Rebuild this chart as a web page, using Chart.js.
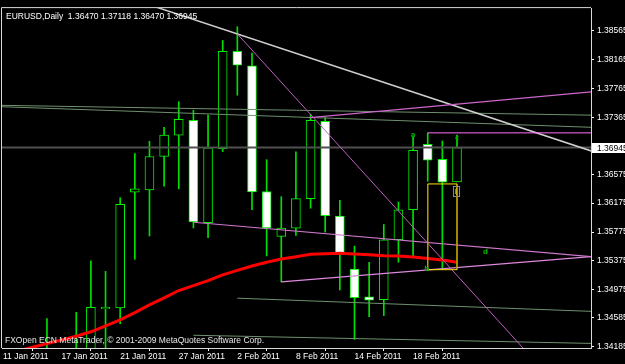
<!DOCTYPE html>
<html><head><meta charset="utf-8">
<script src="https://cdn.jsdelivr.net/npm/chart.js@4.4.1/dist/chart.umd.min.js"></script>
<style>html,body{margin:0;padding:0;background:#000;overflow:hidden}canvas{display:block}</style>
</head><body>
<canvas id="c" width="625" height="364"></canvas>
<script>
// ---------- data ----------
const symbolTitle = 'EURUSD,Daily';
const copyright = 'FXOpen ECN MetaTrader, \u00A9 2001-2009 MetaQuotes Software Corp.';
const dates = ['11 Jan 2011','12 Jan 2011','13 Jan 2011','14 Jan 2011','17 Jan 2011','18 Jan 2011','19 Jan 2011','20 Jan 2011','21 Jan 2011','24 Jan 2011','25 Jan 2011','26 Jan 2011','27 Jan 2011','28 Jan 2011','31 Jan 2011','1 Feb 2011','2 Feb 2011','3 Feb 2011','4 Feb 2011','7 Feb 2011','8 Feb 2011','9 Feb 2011','10 Feb 2011','11 Feb 2011','14 Feb 2011','15 Feb 2011','16 Feb 2011','17 Feb 2011','18 Feb 2011','21 Feb 2011','22 Feb 2011','23 Feb 2011'];
const opens  = [1.29420,1.29660,1.30960,1.33600,1.33860,1.33040,1.33900,1.34712,1.34722,1.36328,1.36359,1.36822,1.37118,1.37322,1.35906,1.36931,1.38279,1.38079,1.36336,1.35715,1.35828,1.36237,1.37308,1.35996,1.35261,1.34875,1.34839,1.35669,1.36083,1.36990,1.36781,1.36470];
const highs  = [1.29950,1.31060,1.33790,1.34576,1.34050,1.34662,1.35375,1.35229,1.36250,1.36863,1.37031,1.37227,1.37581,1.37462,1.37394,1.38429,1.38619,1.38256,1.36777,1.36264,1.36886,1.37408,1.37363,1.36214,1.35579,1.35356,1.35879,1.36192,1.37091,1.37149,1.37036,1.37118];
const lows   = [1.28910,1.29460,1.30590,1.33060,1.32700,1.32940,1.33640,1.33910,1.34504,1.35397,1.35720,1.36410,1.36373,1.35832,1.35696,1.36890,1.37671,1.36083,1.35443,1.35084,1.35729,1.36105,1.35774,1.34971,1.34286,1.34603,1.34617,1.35356,1.35434,1.36478,1.35253,1.36470];
const closes = [1.29660,1.30960,1.33600,1.33860,1.33040,1.33900,1.34730,1.34730,1.36159,1.36373,1.36822,1.37118,1.37336,1.35914,1.36941,1.38279,1.38088,1.36332,1.35832,1.35828,1.36237,1.37322,1.36001,1.35488,1.34866,1.34830,1.35665,1.36083,1.36908,1.36772,1.36464,1.36945];
const maValues = [1.34075,1.34125,1.34178,1.34228,1.34279,1.34331,1.34392,1.34474,1.34558,1.34658,1.34766,1.34862,1.34964,1.35032,1.35100,1.35182,1.35243,1.35304,1.35356,1.35400,1.35431,1.35468,1.35475,1.35479,1.35470,1.35461,1.35447,1.35443,1.35427,1.35407,1.35386,1.35356];
const yTicks = [1.38565,1.38165,1.37765,1.37365,1.36575,1.36175,1.35775,1.35375,1.34975,1.34585,1.34185];
const xTickIdx = [0,4,8,12,16,20,24,28];
// trend objects: [barIndex, price] pairs
const lineWhite = [[10.5,1.38889],[40.2,1.36896]];
const linePink1 = [[16.0,1.38520],[36.0,1.34058]];
const linePink2 = [[20.96,1.37360],[40.2,1.37719]];
const linePink3 = [[29,1.37149],[40.2,1.37149]];
const linePink4 = [[13,1.35910],[40.2,1.35432]];
const linePink5 = [[19,1.35084],[40.2,1.35436]];
const lineGreenA = [[-0.5,1.37532],[40.2,1.37394]];
const lineGreenB = [[-0.5,1.37514],[40.2,1.37226]];
const lineGreenC = [[16,1.34858],[40.2,1.34675]];
const lineGreenD = [[13,1.34344],[40.2,1.34231]];
const rectBars = [29,31];
const rectPrices = [1.36441,1.35253];
const waveLabels = ['a','b','c','d'];
const waveX = [28,28.93,31,32.95];
const waveP = [1.37118,1.35257,1.37077,1.35492];
const iconX = 31, iconP = 1.36414;

// ---------- build ----------
const idx = closes.map((_, i) => i);
const wickData = idx.map(i => ({x: i, y: [lows[i], highs[i]]}));
const bodyData = idx.map(i => ({x: i, y: [opens[i], closes[i]]}));
const bodyFill = idx.map(i => closes[i] < opens[i] ? '#ffffff' : '#000000');
const toPts = arr => arr.map(p => ({x: p[0], y: p[1]}));
const lastX = -0.07, endX = 40.15;

function seg(pts, color, width, order) {
  return {type: 'line', data: toPts(pts), borderColor: color, borderWidth: width, pointRadius: 0, tension: 0, clip: 0, order: order, fill: false};
}
const rx0 = rectBars[0], rx1 = rectBars[1], rt = rectPrices[0], rb = rectPrices[1];

const datasets = [
  {type: 'bar', data: bodyData, backgroundColor: bodyFill, borderColor: '#00f000', borderWidth: 1, borderSkipped: false, barThickness: 9, grouped: false, clip: 0, order: 20},
  {type: 'bar', data: wickData, backgroundColor: '#00e000', borderWidth: 0, barThickness: 1, grouped: false, clip: 0, order: 21},
  seg([[lastX, closes[closes.length-1]], [endX, closes[closes.length-1]]], '#505050', 2, 15),
  seg(lineGreenA, '#6f906f', 1, 10),
  seg(lineGreenB, '#6f906f', 1, 10),
  seg(lineGreenC, '#6f906f', 1, 10),
  seg(lineGreenD, '#6f906f', 1, 10),
  {type: 'line', data: idx.map(i => ({x: i, y: maValues[i]})), borderColor: '#ff0000', borderWidth: 3, pointRadius: 0, tension: 0, clip: 0, order: 5, fill: false},
  seg(lineWhite, '#cfcfcf', 1.5, 4),
  seg(linePink1, '#c060c0', 1, 3),
  seg(linePink2, '#cc66cc', 1.2, 3),
  seg(linePink3, '#ff70ff', 1, 3),
  seg(linePink4, '#cc77cc', 1.2, 3),
  seg(linePink5, '#dd88dd', 1.2, 3),
  seg([[rx0, rt], [rx1, rt]], '#ffe000', 1, 2),
  seg([[rx0, rb], [rx1, rb]], '#ffe000', 1, 2),
  seg([[rx0, rt], [rx0, rb]], '#b89c00', 1, 2),
  seg([[rx1, rt], [rx1, rb]], '#b89c00', 1, 2)
];

const FONT = '"Liberation Sans", Arial, sans-serif';
const overlay = {
  id: 'overlay',
  beforeDraw(chart) {
    const {ctx, width, height} = chart;
    ctx.save(); ctx.fillStyle = '#000'; ctx.fillRect(0, 0, width, height); ctx.restore();
  },
  afterDraw(chart) {
    const {ctx, chartArea: a, scales: {x, y}} = chart;
    const n = closes.length - 1;
    ctx.save();
    ctx.strokeStyle = '#d8d8d8'; ctx.lineWidth = 1;
    ctx.beginPath();
    ctx.moveTo(a.left - 0.5, a.bottom); ctx.lineTo(a.left - 0.5, a.top - 0.5); ctx.lineTo(a.right, a.top - 0.5);
    ctx.stroke();
    ctx.font = '8.5px ' + FONT; ctx.fillStyle = '#ffffff'; ctx.textAlign = 'left'; ctx.textBaseline = 'alphabetic';
    ctx.fillText(symbolTitle + '  ' + opens[n].toFixed(5) + ' ' + highs[n].toFixed(5) + ' ' + lows[n].toFixed(5) + ' ' + closes[n].toFixed(5), a.left + 4, a.top + 11);
    ctx.fillStyle = '#e8e8e8';
    ctx.fillText(copyright, a.left + 3, a.bottom - 5);
    // current price label
    const py = Math.round(y.getPixelForValue(closes[n]));
    ctx.fillStyle = '#ffffff'; ctx.fillRect(a.right + 1, py - 5, 40, 10);
    ctx.fillStyle = '#000000'; ctx.textBaseline = 'middle';
    ctx.fillText(closes[n].toFixed(5), a.right + 6, py + 0.5);
    // wave labels
    ctx.save();
    ctx.beginPath(); ctx.rect(a.left, a.top, a.right - a.left, a.bottom - a.top); ctx.clip();
    ctx.font = 'bold 7px "DejaVu Sans", sans-serif'; ctx.fillStyle = '#00b000'; ctx.textAlign = 'center'; ctx.textBaseline = 'middle';
    waveLabels.forEach((t, k) => ctx.fillText(t, x.getPixelForValue(waveX[k]), y.getPixelForValue(waveP[k])));
    // small object icon
    const ix = x.getPixelForValue(iconX), iy = y.getPixelForValue(iconP);
    ctx.strokeStyle = '#8a8a8a'; ctx.lineWidth = 1;
    ctx.strokeRect(Math.round(ix) - 3.5, Math.round(iy) + 0.5, 6, 10);
    ctx.fillStyle = '#c8b000'; ctx.fillRect(Math.round(ix) - 1, Math.round(iy) + 2, 1, 7);
    ctx.fillStyle = '#5080c0'; ctx.fillRect(Math.round(ix) - 2, Math.round(iy) + 3, 1, 5);
    ctx.restore();
    ctx.restore();
  }
};

new Chart(document.getElementById('c'), {
  type: 'bar',
  data: {datasets},
  options: {
    responsive: false, animation: false, devicePixelRatio: 1,
    layout: {padding: {left: 2, top: 2, right: 0, bottom: 0}},
    plugins: {legend: {display: false}, tooltip: {enabled: false}},
    events: [],
    scales: {
      x: {
        type: 'linear', min: lastX, max: endX, offset: false,
        afterBuildTicks: s => { s.ticks = xTickIdx.map(v => ({value: v})); },
        afterFit: s => { s.height = 16; },
        ticks: {autoSkip: false, maxRotation: 0, minRotation: 0, align: 'start', padding: 1, color: '#ffffff', font: {family: FONT, size: 8.5}, callback: v => dates[v]},
        grid: {drawOnChartArea: false, drawTicks: true, tickLength: 3, color: '#ffffff'},
        border: {display: true, color: '#d8d8d8', width: 1}
      },
      y: {
        type: 'linear', position: 'right', min: 1.341675, max: 1.38878,
        afterBuildTicks: s => { s.ticks = yTicks.map(v => ({value: v})); },
        afterFit: s => { s.width = 34; },
        ticks: {padding: 3, color: '#ffffff', crossAlign: 'near', font: {family: FONT, size: 8.5}, callback: v => Number(v).toFixed(5)},
        grid: {drawOnChartArea: false, drawTicks: true, tickLength: 3, color: '#ffffff'},
        border: {display: true, color: '#d8d8d8', width: 1}
      }
    }
  },
  plugins: [overlay]
});
</script>
</body></html>
